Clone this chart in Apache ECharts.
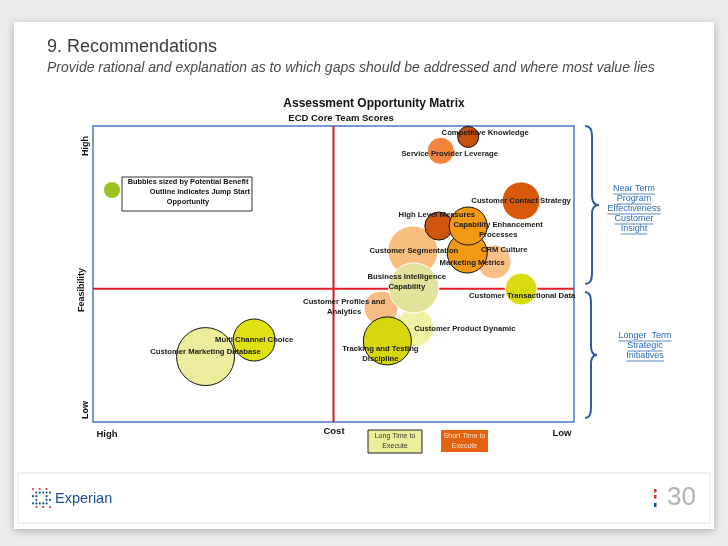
<!DOCTYPE html>
<html>
<head>
<meta charset="utf-8">
<script src="https://cdn.jsdelivr.net/npm/echarts@6/dist/echarts.min.js"></script>
<style>
  html, body { margin: 0; padding: 0; background: #ebebeb; }
  #chart { width: 728px; height: 546px; }
</style>
</head>
<body>
<div id="chart"></div>
<script>
// Assessment Opportunity Matrix - cost (x, high -> low) vs feasibility (y, low -> high)
const names = [
  "Customer Segmentation", "CRM Culture", "High Level Measures", "Marketing Metrics",
  "Capability Enhancement\nProcesses", "Customer Profiles and\nAnalytics", "Customer Product Dynamic",
  "Business Intelligence\nCapability", "Tracking and Testing\nDiscipline", "Customer Transactional Data",
  "Customer Contact Strategy", "Service Provider Leverage", "Competitive Knowledge",
  "Customer Marketing Database", "Multi Channel Choice"
];
const cost = [6.65, 8.34, 7.19, 7.78, 7.80, 5.99, 6.69, 6.67, 6.12, 8.90, 8.90, 7.23, 7.80, 2.34, 3.35];
const feasibility = [5.78, 5.41, 6.62, 5.71, 6.62, 3.85, 3.18, 4.53, 2.74, 4.49, 7.47, 9.16, 9.63, 2.21, 2.77];
const benefit = [50, 34, 28, 40, 38, 34, 38, 50, 48, 32, 38, 27, 21, 58, 42];
const jumpStart = [false, false, true, true, true, false, false, false, true, false, false, false, true, true, true];

const costMid = 5;
const feasMid = 4.5;

const bubbleColors = [
  "#f9bd7e", "#f9c088", "#cf540c", "#f29a16", "#f29a16", "#f8bc82", "#f1f1a4",
  "#e2e29a", "#d6d60c", "#dada10", "#d9590c", "#f5843a", "#c9500c", "#ecec9c", "#e0e012"
];
const labelOffsets = [
  [1, 0], [10, -12], [-2, -11], [5, 10], [30, 4], [-37, -1], [50, 1],
  [-7, -6], [-7, 13], [1, 7], [0, 0], [9, 3], [17, -4], [0, -5], [0, 0]
];

const nearTerm = ["Near Term", "Program", "Effectiveness", "Customer", "Insight"];
const longerTerm = ["Longer  Term", "Strategic", "Initiatives"];

let chart = echarts.init(document.getElementById("chart"));

let measure = document.createElement("canvas").getContext("2d");
let textWidth = (txt, font) => {
  measure.font = font;
  return measure.measureText(txt).width;
};

// blue underlined side notes
let sideNote = (lines, cx, y0) => {
  let out = [];
  lines.forEach((line, i) => {
    let y = y0 + i * 10;
    let w = textWidth(line, '9px "Liberation Sans"');
    out.push({
      type: "text", x: cx, y: y,
      style: { text: line, font: '9px "Liberation Sans"', fill: "#2a6bb5", align: "center", verticalAlign: "middle" }
    });
    out.push({
      type: "line",
      shape: { x1: cx - w / 2, y1: y + 5, x2: cx + w / 2, y2: y + 5 },
      style: { stroke: "#2a6bb5", lineWidth: 0.8 }
    });
  });
  return out;
};

// curly brace opening to the left, tip pointing right
let brace = (x0, x1, xTip, yTop, yTip, yBot) => {
  let st = { stroke: "#2e5c9e", lineWidth: 2, fill: null };
  return [
    { type: "bezierCurve", shape: { x1: x0, y1: yTop, cpx1: x1, cpy1: yTop, x2: x1, y2: yTop + 10 }, style: st },
    { type: "line", shape: { x1: x1, y1: yTop + 10, x2: x1, y2: yTip - 9 }, style: st },
    { type: "bezierCurve", shape: { x1: x1, y1: yTip - 9, cpx1: x1, cpy1: yTip, x2: xTip, y2: yTip }, style: st },
    { type: "bezierCurve", shape: { x1: xTip, y1: yTip, cpx1: x1, cpy1: yTip, x2: x1, y2: yTip + 9 }, style: st },
    { type: "line", shape: { x1: x1, y1: yTip + 9, x2: x1, y2: yBot - 10 }, style: st },
    { type: "bezierCurve", shape: { x1: x1, y1: yBot - 10, cpx1: x1, cpy1: yBot, x2: x0, y2: yBot }, style: st }
  ];
};

let bold = (size) => 'bold ' + size + 'px "Liberation Sans"';

// Experian mark: small dot grid, red corners
let logoDots = [];
for (let r = 0; r < 6; r++) {
  for (let c = 0; c < 6; c++) {
    let edge = r == 0 || r == 5 || c == 0 || c == 5;
    let inner = (r == 1 || r == 4) && c > 0 && c < 5 || (c == 1 || c == 4) && r > 0 && r < 5;
    if (!edge && !inner) continue;
    if (edge && (r + c) % 2 == 1) continue;
    logoDots.push({
      type: "circle",
      shape: { cx: 33 + c * 3.4, cy: 489 + r * 3.6, r: 1.1 },
      style: { fill: edge && (r == 0 || r == 5) ? "#d6323f" : "#1d4f91" }
    });
  }
}

// dotted texture used on the bubbles
let dots = {
  symbol: "rect", symbolSize: 1,
  dashArrayX: [2, 2.5], dashArrayY: [3, 2.5],
  color: "rgba(255,255,255,0.45)"
};

let option = {
  backgroundColor: "#ebebeb",
  animation: false,
  aria: { enabled: true, decal: { show: true } },
  grid: {
    left: 93, top: 126, width: 481, height: 296,
    show: true, backgroundColor: "#fff", borderColor: "#4a78c2", borderWidth: 1.5
  },
  xAxis: { type: "value", min: 0, max: 10, show: false },
  yAxis: { type: "value", min: 0, max: 10, show: false },
  graphic: [
    {
      type: "rect", z: -10,
      shape: { x: 14, y: 22, width: 700, height: 507 },
      style: { fill: "#fff", shadowBlur: 8, shadowColor: "rgba(0,0,0,0.25)", shadowOffsetY: 2 }
    },
    {
      type: "rect", z: -9,
      shape: { x: 18, y: 473, width: 692, height: 50 },
      style: { fill: "#fff", stroke: "#ececec", lineWidth: 1.5 }
    },
    {
      type: "text", x: 47, y: 47,
      style: { text: "9. Recommendations", font: '18px "Liberation Sans"', fill: "#3c3c3c", verticalAlign: "middle" }
    },
    {
      type: "text", x: 47, y: 68,
      style: { text: "Provide rational and explanation as to which gaps should be addressed and where most value lies", font: 'italic 14px "Liberation Sans"', fill: "#4a4a4a", verticalAlign: "middle" }
    },
    {
      type: "text", x: 374, y: 104,
      style: { text: "Assessment Opportunity Matrix", font: bold(12), fill: "#111", align: "center", verticalAlign: "middle" }
    },
    {
      type: "text", x: 341, y: 118,
      style: { text: "ECD Core Team Scores", font: bold(9.5), fill: "#111", align: "center", verticalAlign: "middle" }
    },
    { type: "text", x: 86, y: 146, rotation: Math.PI / 2,
      style: { text: "High", font: bold(9), fill: "#111", align: "center", verticalAlign: "middle" } },
    { type: "text", x: 82, y: 290, rotation: Math.PI / 2,
      style: { text: "Feasibility", font: bold(9), fill: "#111", align: "center", verticalAlign: "middle" } },
    { type: "text", x: 86, y: 410, rotation: Math.PI / 2,
      style: { text: "Low", font: bold(9), fill: "#111", align: "center", verticalAlign: "middle" } },
    { type: "text", x: 107, y: 434,
      style: { text: "High", font: bold(9.5), fill: "#111", align: "center", verticalAlign: "middle" } },
    { type: "text", x: 334, y: 431,
      style: { text: "Cost", font: bold(9.5), fill: "#111", align: "center", verticalAlign: "middle" } },
    { type: "text", x: 562, y: 433,
      style: { text: "Low", font: bold(9.5), fill: "#111", align: "center", verticalAlign: "middle" } },
    // bubble legend
    { type: "circle", shape: { cx: 112, cy: 190, r: 8 }, style: { fill: "#9bc31f" } },
    { type: "rect", shape: { x: 122, y: 177, width: 130, height: 34 }, style: { fill: "#fff", stroke: "#333", lineWidth: 1 } },
    { type: "text", x: 188, y: 182,
      style: { text: "Bubbles sized by Potential Benefit", font: bold(7.4), fill: "#111", align: "center", verticalAlign: "middle" } },
    { type: "text", x: 250, y: 192,
      style: { text: "Outline indicates Jump Start", font: bold(7.4), fill: "#111", align: "right", verticalAlign: "middle" } },
    { type: "text", x: 188, y: 202,
      style: { text: "Opportunity", font: bold(7.4), fill: "#111", align: "center", verticalAlign: "middle" } },
    // execution time legend
    { type: "rect", shape: { x: 368, y: 430, width: 54, height: 23 }, style: { fill: "#eeee9a", stroke: "#222", lineWidth: 1 } },
    { type: "text", x: 395, y: 441.5,
      style: { text: "Long Time to\nExecute", font: '7px "Liberation Sans"', lineHeight: 10, fill: "#333", align: "center", verticalAlign: "middle" } },
    { type: "rect", shape: { x: 441, y: 430, width: 47, height: 22 }, style: { fill: "#e2620f" } },
    { type: "text", x: 464.5, y: 441,
      style: { text: "Short Time to\nExecute", font: '7px "Liberation Sans"', lineHeight: 10, fill: "#fde3cc", align: "center", verticalAlign: "middle" } },
    ...brace(585, 592, 599, 126, 205, 284),
    ...brace(585, 591, 597, 292, 355, 418),
    ...sideNote(nearTerm, 634, 189),
    ...sideNote(longerTerm, 645, 336),
    // footer
    ...logoDots,
    { type: "text", x: 55, y: 499,
      style: { text: "Experian", font: '14.5px "Liberation Sans"', fill: "#1d4f91", verticalAlign: "middle" } },
    { type: "rect", shape: { x: 654, y: 489, width: 2.5, height: 3.5 }, style: { fill: "#d6323f" } },
    { type: "rect", shape: { x: 654, y: 495, width: 2.5, height: 3.5 }, style: { fill: "#d6323f" } },
    { type: "rect", shape: { x: 654, y: 503, width: 2.5, height: 4 }, style: { fill: "#1d4f91" } },
    { type: "text", x: 667, y: 498,
      style: { text: "30", font: '26px "Liberation Sans"', fill: "#b3b3b3", verticalAlign: "middle" } }
  ],
  series: [
    {
      type: "line", z: 1, silent: true, symbol: "none",
      data: [[costMid, 0], [costMid, 10]],
      lineStyle: { color: "#c4202a", width: 2 }
    },
    {
      type: "line", z: 1, silent: true, symbol: "none",
      data: [[0, feasMid], [10, feasMid]],
      lineStyle: { color: "#e02026", width: 2 }
    },
    {
      type: "scatter", z: 3, silent: true,
      symbolSize: (v) => v[2],
      itemStyle: { opacity: 1, decal: dots },
      label: {
        show: true, position: "inside",
        formatter: (p) => p.name,
        fontFamily: "Liberation Sans", fontWeight: "bold", fontSize: 7.7,
        lineHeight: 10, color: "#1a1a1a", align: "center"
      },
      data: names.map((n, i) => ({
        name: n,
        value: [cost[i], feasibility[i], benefit[i]],
        itemStyle: {
          color: bubbleColors[i],
          borderColor: jumpStart[i] ? "#111" : "#fff",
          borderWidth: 1,
          decal: dots
        },
        label: { offset: labelOffsets[i] }
      }))
    }
  ]
};

chart.setOption(option);
</script>
</body>
</html>
